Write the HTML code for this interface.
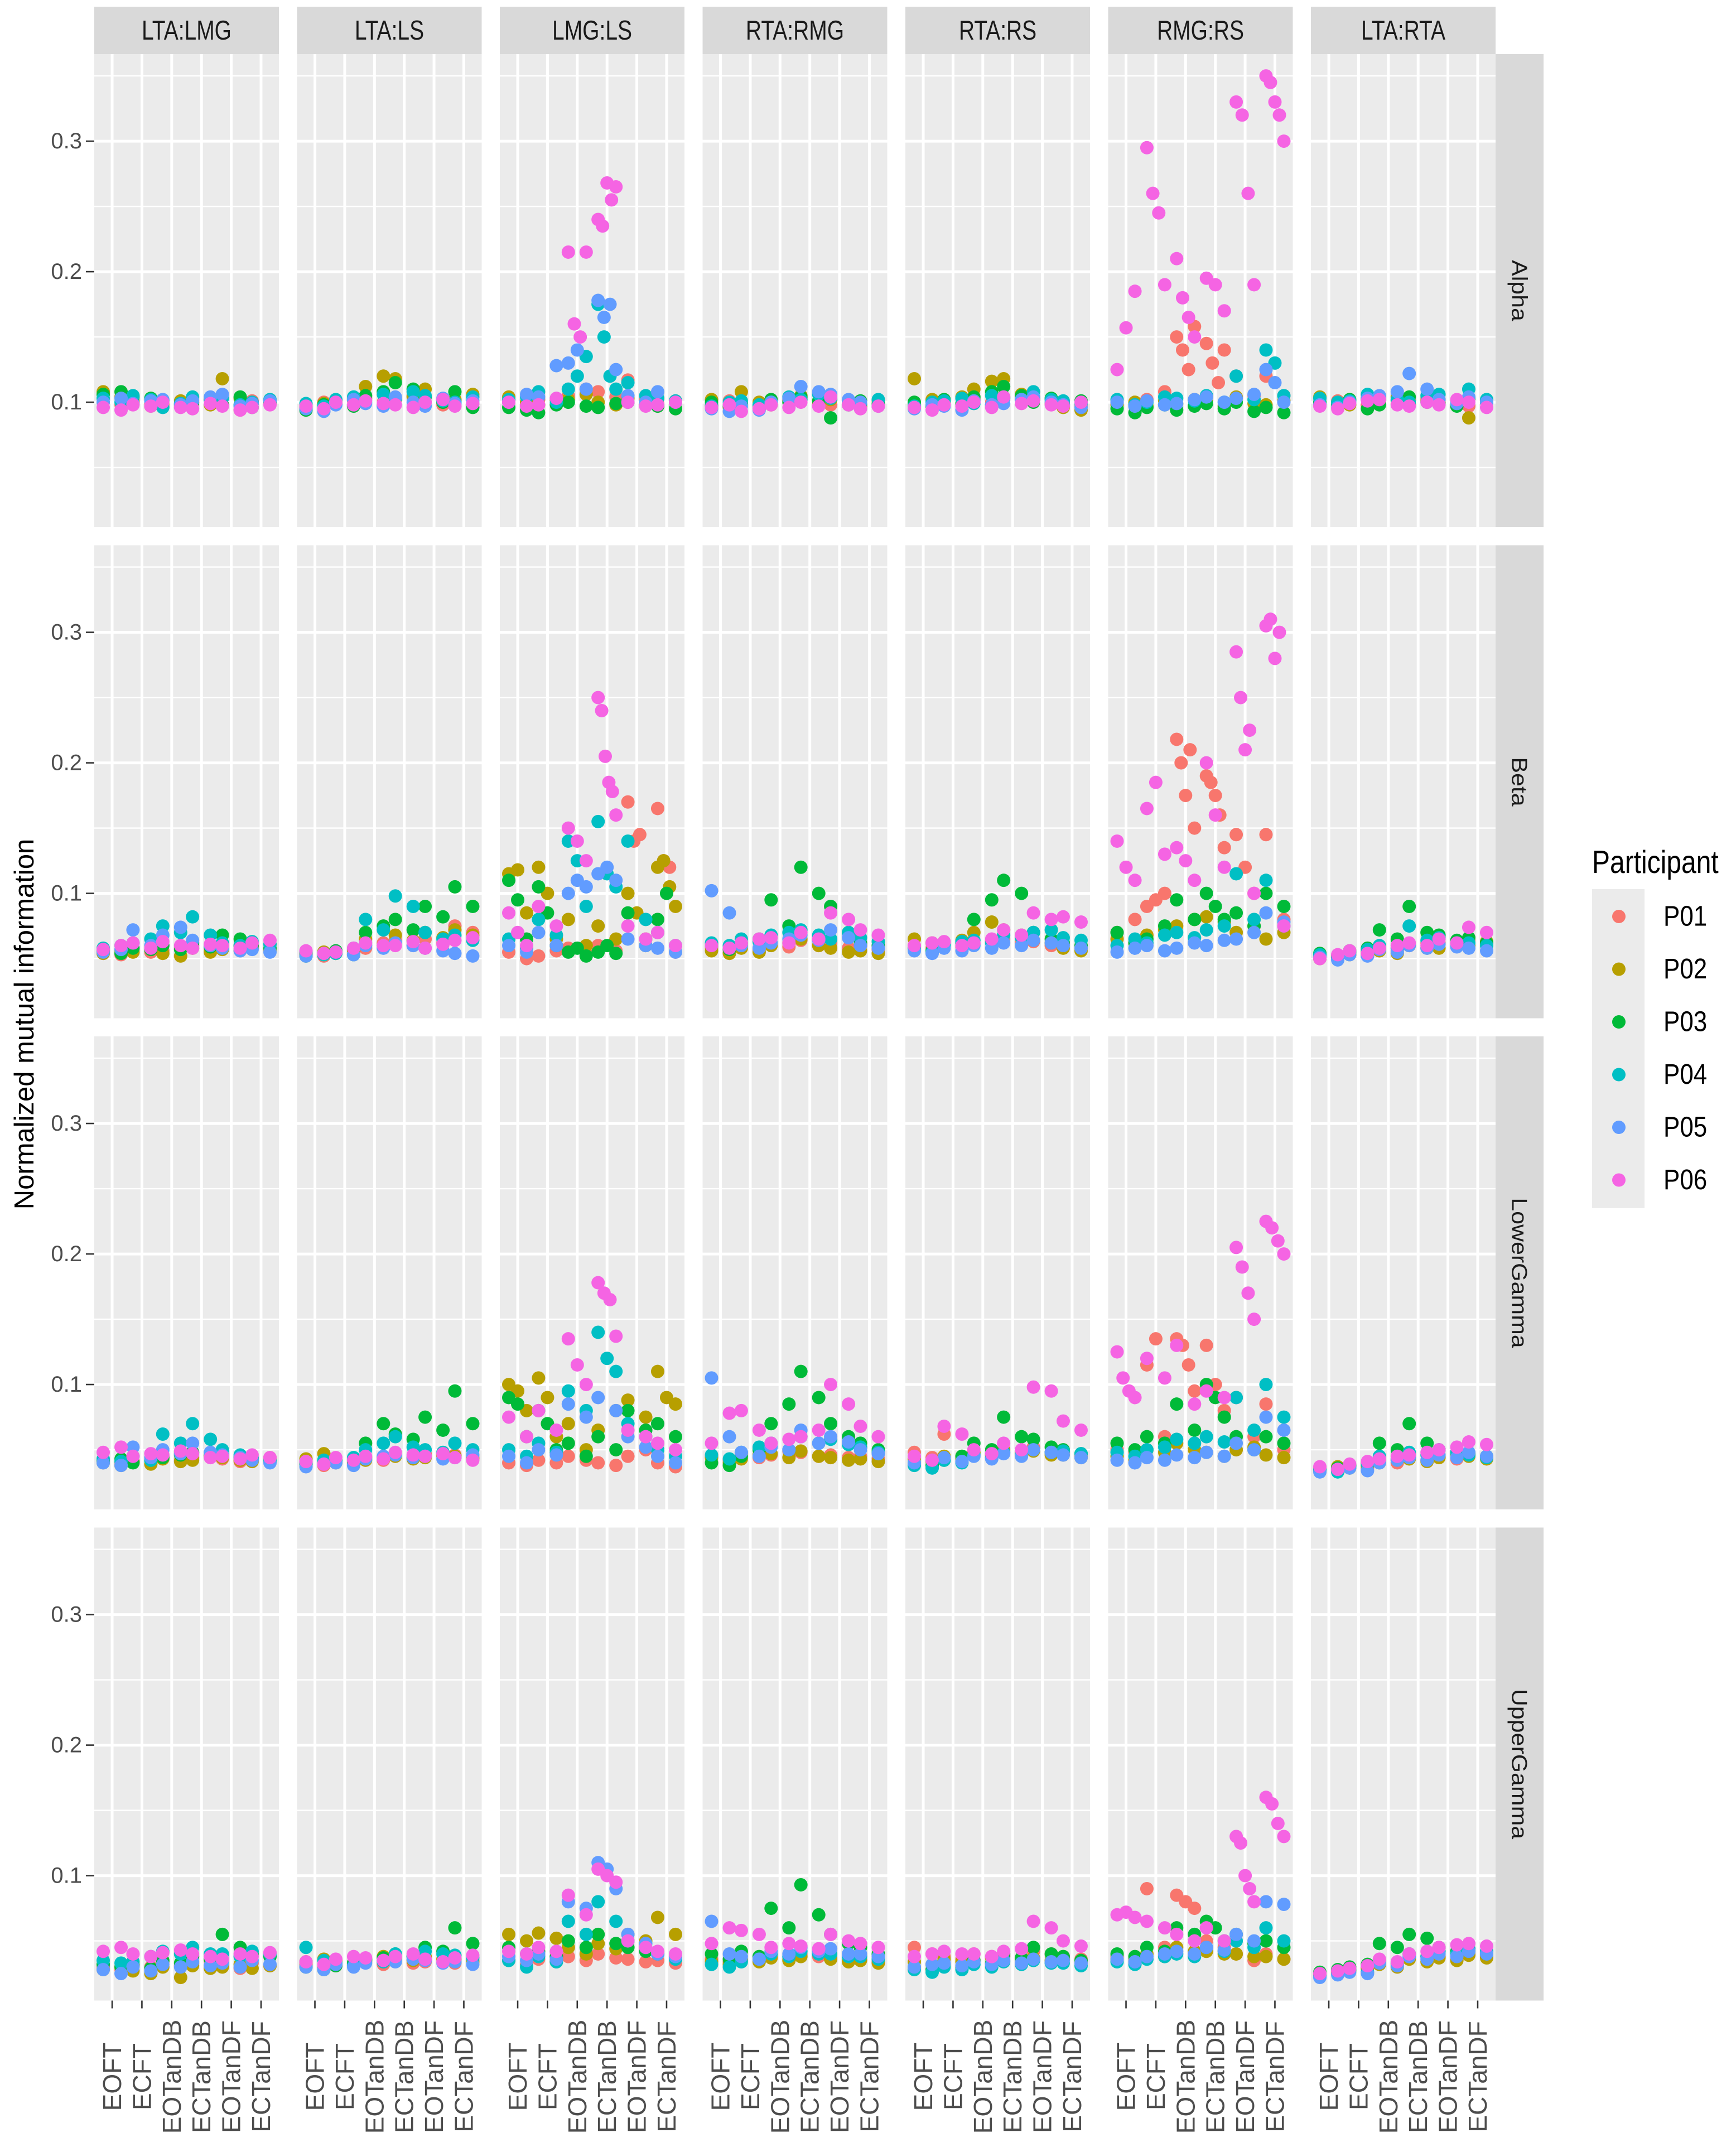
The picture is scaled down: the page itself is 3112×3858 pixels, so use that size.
<!DOCTYPE html>
<html><head><meta charset="utf-8"><style>
html,body{margin:0;padding:0;background:#fff;}
svg{display:block;font-family:"Liberation Sans",Arial,sans-serif;}
</style></head><body>
<svg id="chart" width="3112" height="3858" viewBox="0 0 3112 3858" xmlns="http://www.w3.org/2000/svg">
<text x="44" y="1836" transform="rotate(-90 44 1836)" text-anchor="middle" dominant-baseline="central" font-size="49" fill="#000">Normalized mutual information</text>
<g id="legend">
<text x="0" y="0" transform="translate(2854 1565) scale(1,1.2)" font-size="48" fill="#000">Participant</text>
<rect x="2854" y="1594" width="94" height="572" fill="#ebebeb"/>
</g>
</svg>
<script>
const panelNames=["LTA:LMG","LTA:LS","LMG:LS","RTA:RMG","RTA:RS","RMG:RS","LTA:RTA"];
const bandNames=["Alpha","Beta","LowerGamma","UpperGamma"];
const conditions=["EOFT","ECFT","EOTanDB","ECTanDB","EOTanDF","ECTanDF"];
const participants=["P01","P02","P03","P04","P05","P06"];
const participantColors=["#F8766D","#B79F00","#00BA38","#00BFC4","#619CFF","#F564E3"];
const yTicks=[0.1,0.2,0.3];
const yTickLabels=["0.1","0.2","0.3"];
const yMinor=[0.05,0.15,0.25,0.35];

const alphaValues=[
[[[.100,.098],[.101,.099],[.097,.100],[.099,.102],[.098,.094],[.101,.099]],
 [[.108,.104],[.100,.097],[.099,.101],[.100,.098],[.118,.103],[.099,.101]],
 [[.106,.108],[.104,.103],[.101,.099],[.100,.102],[.098,.104],[.096,.100]],
 [[.103,.100],[.105,.102],[.096,.099],[.104,.101],[.103,.098],[.100,.102]],
 [[.100,.103],[.099,.101],[.102,.098],[.101,.104],[.106,.097],[.099,.101]],
 [[.096,.094],[.098,.097],[.100,.096],[.095,.099],[.097,.094],[.096,.098]]],
[[[.097,.100],[.099,.101],[.103,.100],[.102,.105],[.100,.098],[.101,.099]],
 [[.096,.099],[.101,.103],[.112,.120],[.118,.104],[.110,.100],[.102,.106]],
 [[.094,.098],[.100,.097],[.105,.108],[.115,.110],[.104,.100],[.108,.096]],
 [[.099,.097],[.102,.104],[.100,.106],[.103,.108],[.105,.101],[.100,.104]],
 [[.095,.093],[.098,.102],[.099,.097],[.104,.100],[.097,.103],[.099,.101]],
 [[.097,.095],[.100,.098],[.101,.099],[.098,.096],[.100,.102],[.097,.099]]],
[[[.100,.098],[.102,.100],[.105,.110],[.108,.104],[.117,.102],[.099,.101]],
 [[.104,.100],[.098,.101],[.102,.106],[.100,.098],[.103,.100],[.097,.100]],
 [[.096,.094],[.092,.098],[.100,.097],[.096,.099],[.100,.098],[.097,.095]],
 [[.102,.104],[.108,.100],[.110,.120,.135],[.175,.150,.120,.110],[.115,.105],[.103,.101]],
 [[.100,.106],[.104,.128],[.130,.140,.110],[.178,.165,.175,.125],[.105,.100],[.108,.100]],
 [[.100,.097],[.098,.103],[.215,.160,.150,.215],[.240,.235,.268,.255,.265],[.100,.097],[.098,.100]]],
[[[.098,.101],[.100,.097],[.099,.102],[.103,.100],[.098,.101],[.100,.097]],
 [[.102,.096],[.108,.100],[.098,.101],[.105,.100],[.102,.099],[.097,.101]],
 [[.100,.097],[.099,.095],[.102,.100],[.104,.101],[.088,.098],[.101,.099]],
 [[.097,.100],[.101,.098],[.100,.104],[.102,.106],[.103,.100],[.099,.102]],
 [[.095,.093],[.097,.094],[.100,.103],[.112,.108],[.106,.102],[.100,.097]],
 [[.096,.098],[.093,.095],[.098,.096],[.100,.097],[.104,.098],[.095,.097]]],
[[[.099,.101],[.100,.098],[.102,.100],[.104,.106],[.101,.099],[.100,.097]],
 [[.118,.102],[.100,.104],[.110,.116],[.118,.106],[.103,.100],[.096,.094]],
 [[.100,.097],[.102,.099],[.104,.108],[.112,.105],[.100,.103],[.099,.101]],
 [[.097,.100],[.101,.103],[.099,.105],[.103,.100],[.108,.102],[.101,.099]],
 [[.095,.098],[.097,.094],[.101,.098],[.099,.102],[.104,.100],[.098,.096]],
 [[.096,.094],[.098,.097],[.100,.096],[.104,.099],[.101,.098],[.097,.100]]],
[[[.100,.098],[.102,.108],[.150,.140,.125,.158],[.145,.130,.115,.140],[.120,.105],[.120,.105]],
 [[.098,.100],[.097,.101],[.099,.102],[.100,.097],[.104,.099],[.098,.101]],
 [[.095,.092],[.096,.098],[.094,.097],[.099,.095],[.100,.093],[.096,.092]],
 [[.102,.098],[.100,.104],[.103,.101],[.105,.100],[.120,.102],[.140,.130,.105]],
 [[.100,.097],[.101,.098],[.099,.102],[.104,.100],[.103,.106],[.125,.115,.100]],
 [[.125,.157,.185],[.295,.260,.245,.190],[.210,.180,.165,.150],[.195,.190,.170],[.330,.320,.260,.190],[.350,.345,.330,.320,.300]]],
[[[.099,.101],[.100,.098],[.102,.099],[.101,.103],[.100,.098],[.097,.100]],
 [[.104,.100],[.098,.102],[.100,.104],[.099,.101],[.102,.098],[.088,.100]],
 [[.100,.098],[.102,.095],[.098,.101],[.104,.100],[.099,.097],[.103,.100]],
 [[.103,.100],[.101,.106],[.104,.102],[.100,.105],[.106,.101],[.110,.102]],
 [[.098,.096],[.100,.103],[.105,.108],[.122,.110],[.102,.099],[.104,.100]],
 [[.097,.095],[.099,.101],[.102,.098],[.097,.100],[.098,.102],[.100,.096]]]
];
const betaValues=[
[[[.055,.053],[.057,.055],[.056,.058],[.060,.057],[.058,.056],[.059,.061]],
 [[.054,.056],[.055,.057],[.054,.052],[.058,.055],[.057,.060],[.058,.056]],
 [[.056,.054],[.058,.057],[.060,.057],[.062,.059],[.068,.065],[.060,.058]],
 [[.058,.060],[.062,.065],[.075,.070],[.082,.068],[.062,.060],[.063,.061]],
 [[.055,.057],[.072,.060],[.068,.074],[.064,.060],[.058,.056],[.057,.055]],
 [[.057,.060],[.062,.058],[.063,.060],[.058,.061],[.060,.058],[.062,.064]]],
[[[.054,.052],[.055,.057],[.058,.062],[.064,.060],[.065,.062],[.075,.070]],
 [[.053,.055],[.054,.056],[.065,.060],[.068,.064],[.070,.066],[.072,.068]],
 [[.052,.054],[.056,.053],[.070,.075],[.080,.072],[.090,.082],[.105,.090]],
 [[.055,.053],[.054,.058],[.080,.072],[.098,.090],[.070,.065],[.068,.064]],
 [[.052,.054],[.055,.053],[.060,.058],[.062,.060],[.058,.056],[.054,.052]],
 [[.056,.054],[.055,.058],[.062,.060],[.060,.063],[.058,.061],[.064,.066]]],
[[[.055,.050],[.052,.056],[.058,.054],[.060,.056],[.170,.140,.145,.060],[.165,.125,.120,.055]],
 [[.115,.118,.085],[.120,.100,.065],[.080,.060],[.075,.065],[.100,.085,.065],[.120,.125,.105,.090]],
 [[.110,.095,.065],[.105,.085,.060],[.055,.058,.052],[.055,.060,.054],[.085,.060],[.080,.100,.060]],
 [[.065,.058],[.080,.068],[.140,.125,.090],[.155,.115,.105],[.140,.080],[.070,.060]],
 [[.060,.055],[.070,.060],[.100,.110,.105],[.115,.120,.110],[.065,.060],[.058,.055]],
 [[.085,.070,.060],[.090,.075],[.150,.140,.125],[.250,.240,.205,.185,.178,.160],[.075,.065],[.070,.060]]],
[[[.058,.055],[.060,.057],[.062,.059],[.064,.060],[.062,.058],[.060,.057]],
 [[.056,.054],[.058,.055],[.060,.062],[.065,.060],[.058,.055],[.056,.054]],
 [[.060,.057],[.062,.065],[.095,.075],[.120,.100],[.090,.070],[.062,.060]],
 [[.062,.060],[.065,.063],[.068,.070],[.072,.068],[.065,.070],[.066,.063]],
 [[.102,.085],[.060,.058],[.062,.065],[.068,.064],[.072,.066],[.060,.058]],
 [[.060,.058],[.062,.065],[.066,.062],[.070,.065],[.085,.080],[.072,.068]]],
[[[.060,.058],[.062,.059],[.061,.063],[.065,.062],[.063,.060],[.062,.058]],
 [[.065,.062],[.060,.064],[.070,.078],[.072,.068],[.064,.062],[.058,.056]],
 [[.058,.056],[.060,.062],[.080,.095],[.110,.100],[.070,.065],[.062,.060]],
 [[.058,.055],[.060,.063],[.064,.062],[.068,.066],[.070,.072],[.066,.064]],
 [[.056,.054],[.058,.056],[.060,.058],[.062,.060],[.064,.062],[.060,.058]],
 [[.060,.062],[.063,.060],[.062,.065],[.072,.068],[.085,.080],[.082,.078]]],
[[[.070,.080],[.090,.095,.100],[.218,.200,.175,.210,.150],[.190,.185,.175,.160,.135],[.145,.120,.100],[.145,.080]],
 [[.065,.062],[.068,.072],[.075,.080],[.082,.078],[.070,.075],[.065,.070]],
 [[.070,.062],[.065,.075],[.095,.080],[.100,.090,.080],[.085,.075],[.100,.090]],
 [[.060,.065],[.062,.068],[.070,.066],[.072,.075],[.115,.080],[.110,.075]],
 [[.055,.058],[.060,.056],[.058,.062],[.060,.064],[.065,.070],[.085,.078]],
 [[.140,.120,.110],[.165,.185,.130],[.135,.125,.110],[.200,.160,.120],[.285,.250,.210,.225,.100],[.305,.310,.280,.300,.075]]],
[[[.052,.050],[.055,.053],[.058,.056],[.060,.062],[.062,.060],[.064,.062]],
 [[.050,.052],[.053,.055],[.056,.054],[.060,.058],[.058,.062],[.060,.063]],
 [[.054,.052],[.056,.058],[.072,.065],[.090,.070],[.068,.064],[.066,.062]],
 [[.053,.051],[.055,.057],[.060,.058],[.075,.064],[.066,.062],[.062,.060]],
 [[.051,.049],[.053,.052],[.057,.055],[.060,.058],[.061,.059],[.058,.056]],
 [[.050,.053],[.056,.054],[.058,.060],[.062,.060],[.065,.062],[.074,.070]]]
];
const lowerGammaValues=[
[[[.042,.040],[.041,.043],[.045,.042],[.044,.046],[.043,.041],[.042,.044]],
 [[.040,.038],[.041,.039],[.043,.041],[.042,.045],[.044,.042],[.041,.043]],
 [[.041,.043],[.040,.042],[.044,.046],[.048,.045],[.046,.044],[.043,.041]],
 [[.043,.041],[.045,.042],[.062,.055],[.070,.058],[.050,.046],[.044,.042]],
 [[.040,.038],[.052,.044],[.050,.047],[.055,.048],[.046,.044],[.042,.040]],
 [[.048,.052],[.045,.047],[.046,.049],[.047,.044],[.045,.043],[.046,.044]]],
[[[.040,.038],[.041,.043],[.044,.042],[.046,.044],[.047,.045],[.046,.044]],
 [[.043,.047],[.040,.042],[.042,.044],[.045,.043],[.044,.046],[.045,.043]],
 [[.039,.041],[.042,.040],[.055,.070],[.062,.058],[.075,.065],[.095,.070]],
 [[.040,.042],[.041,.044],[.050,.055],[.060,.052],[.050,.048],[.055,.050]],
 [[.037,.039],[.040,.038],[.043,.045],[.046,.044],[.045,.043],[.044,.046]],
 [[.041,.039],[.044,.042],[.045,.043],[.048,.046],[.045,.047],[.044,.042]]],
[[[.040,.038],[.042,.040],[.045,.042],[.040,.038],[.045,.050],[.040,.037]],
 [[.100,.095,.080],[.105,.090,.060],[.070,.050],[.065,.080],[.088,.075],[.110,.090,.085]],
 [[.090,.085,.060],[.080,.070,.050],[.055,.045],[.060,.050],[.080,.065],[.070,.060]],
 [[.050,.045],[.055,.048],[.095,.080],[.140,.120,.110],[.070,.060],[.050,.045]],
 [[.045,.040],[.050,.046],[.085,.075],[.090,.080],[.060,.052],[.045,.040]],
 [[.075,.060],[.080,.065],[.135,.115,.100],[.178,.170,.165,.137],[.065,.060],[.055,.050]]],
[[[.045,.042],[.047,.044],[.046,.049],[.048,.045],[.046,.044],[.045,.043]],
 [[.044,.040],[.043,.046],[.047,.044],[.049,.045],[.044,.042],[.043,.041]],
 [[.040,.038],[.045,.050],[.070,.085],[.110,.090],[.070,.060],[.055,.050]],
 [[.046,.043],[.048,.052],[.055,.050],[.060,.055],[.058,.054],[.052,.048]],
 [[.105,.060],[.048,.045],[.052,.050],[.065,.055],[.060,.056],[.050,.047]],
 [[.055,.078],[.080,.065],[.055,.058],[.060,.065],[.100,.085],[.068,.060]]],
[[[.048,.044],[.062,.045],[.047,.044],[.050,.046],[.052,.048],[.048,.045]],
 [[.043,.041],[.045,.043],[.048,.046],[.050,.047],[.049,.046],[.046,.044]],
 [[.040,.038],[.042,.045],[.055,.050],[.075,.060],[.058,.052],[.050,.047]],
 [[.038,.036],[.042,.040],[.046,.044],[.048,.046],[.050,.048],[.049,.047]],
 [[.040,.042],[.044,.041],[.045,.043],[.047,.045],[.050,.048],[.046,.044]],
 [[.045,.042],[.068,.062],[.050,.047],[.055,.050],[.098,.095],[.072,.065]]],
[[[.050,.048],[.115,.135,.060],[.135,.130,.115,.095],[.130,.100,.080],[.090,.060],[.085,.050]],
 [[.045,.042],[.050,.048],[.055,.050],[.048,.045],[.050,.052],[.046,.044]],
 [[.055,.050],[.060,.055],[.085,.065],[.100,.090,.075],[.060,.050],[.060,.055]],
 [[.048,.045],[.050,.052],[.058,.055],[.060,.056],[.090,.065],[.100,.075]],
 [[.042,.040],[.044,.042],[.046,.044],[.048,.045],[.055,.050],[.075,.065]],
 [[.125,.105,.095,.090],[.120,.105],[.130,.085],[.095,.090],[.205,.190,.170,.150],[.225,.220,.210,.200]]],
[[[.036,.034],[.038,.036],[.042,.040],[.044,.042],[.045,.043],[.046,.044]],
 [[.035,.037],[.036,.038],[.040,.042],[.043,.041],[.044,.046],[.045,.043]],
 [[.034,.036],[.038,.040],[.055,.050],[.070,.055],[.050,.048],[.047,.045]],
 [[.035,.033],[.037,.039],[.045,.043],[.048,.046],[.050,.048],[.046,.044]],
 [[.033,.035],[.036,.034],[.040,.042],[.044,.042],[.046,.044],[.048,.045]],
 [[.037,.035],[.039,.041],[.043,.045],[.046,.048],[.050,.052],[.056,.054]]]
];
const upperGammaValues=[
[[[.030,.028],[.032,.030],[.034,.031],[.033,.035],[.031,.029],[.033,.031]],
 [[.028,.030],[.027,.025],[.030,.022],[.031,.029],[.030,.032],[.029,.031]],
 [[.032,.030],[.031,.029],[.035,.033],[.038,.036],[.055,.045],[.040,.038]],
 [[.035,.033],[.034,.038],[.042,.040],[.045,.040],[.040,.038],[.042,.040]],
 [[.028,.025],[.030,.027],[.032,.030],[.034,.031],[.033,.030],[.035,.032]],
 [[.042,.045],[.040,.038],[.041,.043],[.040,.038],[.036,.040],[.038,.041]]],
[[[.032,.030],[.031,.033],[.034,.032],[.035,.033],[.034,.036],[.033,.035]],
 [[.034,.036],[.035,.033],[.036,.038],[.037,.035],[.038,.036],[.036,.034]],
 [[.030,.028],[.031,.033],[.035,.037],[.040,.038],[.045,.042],[.060,.048]],
 [[.045,.035],[.033,.031],[.036,.034],[.040,.038],[.042,.040],[.039,.037]],
 [[.030,.028],[.032,.030],[.033,.035],[.034,.036],[.035,.033],[.034,.032]],
 [[.034,.032],[.036,.038],[.037,.035],[.038,.040],[.036,.034],[.037,.039]]],
[[[.035,.032],[.036,.034],[.038,.035],[.040,.037],[.036,.034],[.035,.033]],
 [[.055,.050],[.056,.052],[.045,.040],[.048,.044],[.055,.050],[.068,.055]],
 [[.045,.040],[.042,.038],[.050,.045],[.055,.048],[.045,.042],[.040,.038]],
 [[.035,.030],[.038,.034],[.065,.055],[.080,.065],[.050,.045],[.040,.036]],
 [[.038,.035],[.040,.036],[.080,.075],[.110,.105,.090],[.055,.048],[.040,.038]],
 [[.042,.040],[.045,.042],[.085,.070],[.105,.100,.095],[.050,.045],[.042,.040]]],
[[[.036,.034],[.035,.037],[.038,.036],[.040,.038],[.037,.035],[.036,.034]],
 [[.034,.032],[.036,.034],[.037,.035],[.038,.040],[.036,.034],[.035,.033]],
 [[.040,.036],[.042,.038],[.075,.060],[.093,.070],[.055,.048],[.045,.040]],
 [[.032,.030],[.034,.036],[.040,.038],[.042,.040],[.040,.038],[.038,.036]],
 [[.065,.040],[.038,.036],[.042,.040],[.045,.042],[.044,.040],[.040,.038]],
 [[.048,.060],[.058,.055],[.045,.048],[.046,.044],[.055,.050],[.048,.045]]],
[[[.045,.040],[.038,.036],[.040,.038],[.039,.037],[.042,.040],[.038,.036]],
 [[.034,.032],[.036,.034],[.035,.037],[.038,.036],[.037,.035],[.036,.034]],
 [[.030,.028],[.032,.030],[.035,.033],[.040,.037],[.045,.040],[.038,.035]],
 [[.028,.026],[.030,.028],[.032,.030],[.034,.032],[.035,.033],[.033,.031]],
 [[.030,.032],[.033,.031],[.034,.032],[.035,.033],[.036,.034],[.035,.033]],
 [[.038,.040],[.042,.040],[.040,.038],[.042,.044],[.065,.060],[.050,.046]]],
[[[.038,.036],[.090,.045],[.085,.080,.075],[.050,.045],[.040,.035],[.040,.036]],
 [[.036,.034],[.040,.038],[.045,.042],[.042,.040],[.040,.038],[.038,.036]],
 [[.040,.038],[.045,.042],[.060,.055],[.065,.060,.050],[.055,.048],[.050,.045]],
 [[.034,.032],[.036,.038],[.040,.038],[.045,.042],[.050,.045],[.060,.050]],
 [[.036,.034],[.038,.040],[.042,.040],[.045,.043],[.055,.050],[.080,.078]],
 [[.070,.072,.068],[.065,.060],[.055,.050],[.060,.050],[.130,.125,.100,.090,.080],[.160,.155,.140,.130]]],
[[[.025,.027],[.028,.030],[.034,.032],[.040,.038],[.038,.036],[.040,.038]],
 [[.024,.026],[.027,.029],[.032,.030],[.036,.034],[.037,.035],[.039,.037]],
 [[.026,.028],[.030,.032],[.048,.045],[.055,.052],[.045,.042],[.042,.040]],
 [[.023,.025],[.028,.026],[.035,.033],[.040,.038],[.042,.040],[.044,.042]],
 [[.022,.024],[.026,.025],[.033,.031],[.038,.036],[.040,.038],[.042,.040]],
 [[.025,.027],[.029,.031],[.036,.034],[.040,.042],[.045,.047],[.048,.046]]]
];
const bandValues=[alphaValues,betaValues,lowerGammaValues,upperGammaValues];

const NS="http://www.w3.org/2000/svg";
const svg=document.getElementById("chart");
const PL=169,PW=331,PITCH=363.5,PT=97,PH=848,RPITCH=880.5;
const YMAX=0.3667,YSPAN=0.3624;
function colLeft(c){return PL+c*PITCH;}
function rowTop(r){return PT+r*RPITCH;}
function xScale(c,k){return colLeft(c)+(k-0.4)/6.2*PW;}
function yScale(r,v){return rowTop(r)+(YMAX-v)/YSPAN*PH;}
function mk(tag,attrs,parent){const e=document.createElementNS(NS,tag);for(const a in attrs)e.setAttribute(a,attrs[a]);(parent||svg).appendChild(e);return e;}

const defs=mk("defs",{});
panelNames.forEach((name,c)=>{
  const g=mk("g",{});
  
  
  mk("rect",{x:colLeft(c),y:12,width:PW,height:85,fill:"#d9d9d9"},g);
  const t=mk("text",{x:0,y:0,transform:`translate(${colLeft(c)+PW/2} 55) scale(1,1.25)`,"text-anchor":"middle","dominant-baseline":"central","font-size":39,fill:"#1a1a1a"},g);
  t.textContent=name;
  
  
});
bandNames.forEach((band,r)=>{
  const top=rowTop(r);
  const sg=mk("g",{});
  
  
  mk("rect",{x:2681,y:top,width:86,height:PH,fill:"#d9d9d9"},sg);
  const cx=2724,cy=top+PH/2;
  const st=mk("text",{x:0,y:0,transform:`translate(${cx} ${cy}) rotate(90) scale(1.1,1)`,"text-anchor":"middle","dominant-baseline":"central","font-size":39,fill:"#1a1a1a"},sg);
  st.textContent=band;
  
  
  yTicks.forEach((v,i)=>{
    const y=yScale(r,v);
    const tl=mk("line",{x1:154,x2:169,y1:y,y2:y,stroke:"#333","stroke-width":2.6});
    
    
    const tx=mk("text",{x:147,y:y,"text-anchor":"end","dominant-baseline":"central","font-size":40,fill:"#4d4d4d"});
    tx.textContent=yTickLabels[i];
    
    
  });
  panelNames.forEach((name,c)=>{
    const left=colLeft(c);
    const g=mk("g",{});
    
    
    const cid="clip"+r+"_"+c;
    const cp=mk("clipPath",{id:cid},defs);
    mk("rect",{x:left,y:top,width:PW,height:PH},cp);
    mk("rect",{x:left,y:top,width:PW,height:PH,fill:"#ebebeb"},g);
    yMinor.forEach(v=>{const y=yScale(r,v);if(y>top&&y<top+PH)mk("line",{x1:left,x2:left+PW,y1:y,y2:y,stroke:"#fff","stroke-width":2.4},g);});
    yTicks.forEach(v=>{const y=yScale(r,v);mk("line",{x1:left,x2:left+PW,y1:y,y2:y,stroke:"#fff","stroke-width":5},g);});
    conditions.forEach((cn,k)=>{const x=xScale(c,k+1);mk("line",{x1:x,x2:x,y1:top,y2:top+PH,stroke:"#fff","stroke-width":5},g);});
    const pg=mk("g",{"clip-path":`url(#${cid})`},g);
    const panelData=bandValues[r][c];
    panelData.forEach((series,p)=>{
      series.forEach((vals,k)=>{
        const n=vals.length;
        vals.forEach((v,i)=>{
          const off=n===1?0:-0.3+0.6*i/(n-1);
          const pt=mk("circle",{cx:xScale(c,k+1+off),cy:yScale(r,v),r:12,fill:participantColors[p]},pg);
          
          
        });
      });
    });
    if(r===3){
      conditions.forEach((cn,k)=>{
        const x=xScale(c,k+1);
        const tk=mk("line",{x1:x,x2:x,y1:top+PH,y2:top+PH+14,stroke:"#333","stroke-width":2.6});
        
        
        const ly=3723;
        const lt=mk("text",{x:0,y:0,transform:`translate(${x} ${ly}) rotate(-90)`,"text-anchor":"middle","dominant-baseline":"central","font-size":46,fill:"#4d4d4d"});
        lt.textContent=cn;
        
        
      });
    }
  });
});
const lg=document.getElementById("legend");
participants.forEach((p,i)=>{
  const y=1643+i*94.5;
  const g=mk("g",{},lg);
  
  
  mk("circle",{cx:2902,cy:y,r:12,fill:participantColors[i]},g);
  const t=mk("text",{x:0,y:0,transform:`translate(2982 ${y}) scale(1,1.15)`,"dominant-baseline":"central","font-size":44,fill:"#000"},g);
  t.textContent=p;
});
</script>
</body></html>
